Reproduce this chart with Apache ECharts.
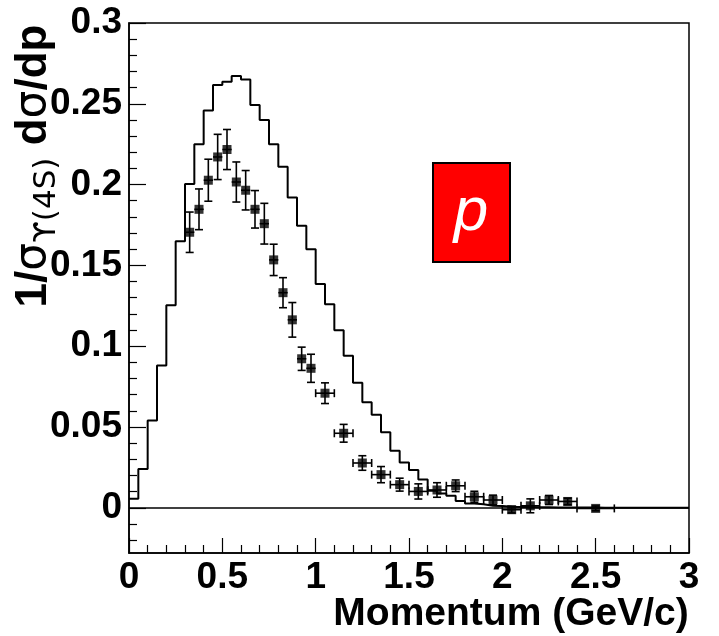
<!DOCTYPE html>
<html>
<head>
<meta charset="utf-8">
<script src="https://cdn.jsdelivr.net/npm/echarts@6/dist/echarts.min.js"></script>
<style>
html, body { margin: 0; padding: 0; background: #fff; }
#chart { width: 719px; height: 636px; }
</style>
</head>
<body>
<div id="chart"></div>
<script>
// Proton momentum spectrum: simulated distribution (histogram, 0.05 GeV/c bins)
// against measured points with error bars.

const binStart = 0;
const binWidth = 0.05;
const histValues = [
  0.0055, 0.024, 0.054, 0.088, 0.1253, 0.165, 0.2004, 0.225, 0.2459, 0.2616,
  0.2637, 0.2672, 0.2651, 0.2492, 0.240, 0.225, 0.211, 0.192, 0.1745, 0.160,
  0.1384, 0.126, 0.1098, 0.094, 0.0773, 0.0653, 0.0576, 0.0467, 0.0353, 0.028,
  0.0233, 0.0175, 0.0105, 0.0088, 0.0075, 0.0042, 0.0026, 0.0022, 0.0013, 0.0011,
  0.0006, 0.0005, 0.0004, 0.0003, 0.0003, 0.0002, 0.0002, 0.0001, 0.0001, 0.0001,
  0, 0, 0, 0, 0, 0, 0, 0, 0, 0
];

const pointMomentum = [
  0.325, 0.375, 0.425, 0.475, 0.525, 0.575, 0.625, 0.675, 0.725, 0.775,
  0.825, 0.875, 0.925, 0.975, 1.05, 1.15, 1.25, 1.35, 1.45, 1.55,
  1.65, 1.75, 1.85, 1.95, 2.05, 2.15, 2.25, 2.35, 2.5
];
const pointValue = [
  0.1705, 0.1847, 0.2027, 0.2171, 0.2217, 0.2016, 0.1965, 0.1847, 0.1758, 0.1534,
  0.1331, 0.1163, 0.0922, 0.0863, 0.0709, 0.0461, 0.0277, 0.0205, 0.0143, 0.0101,
  0.0110, 0.0136, 0.0068, 0.0048, -0.0012, 0.0012, 0.0048, 0.0039, -0.0004
];
const pointMomentumErr = [
  0.025, 0.025, 0.025, 0.025, 0.025, 0.025, 0.025, 0.025, 0.025, 0.025,
  0.025, 0.025, 0.025, 0.025, 0.05, 0.05, 0.05, 0.05, 0.05, 0.05,
  0.05, 0.05, 0.05, 0.05, 0.05, 0.05, 0.05, 0.05, 0.1
];
const pointValueErr = [
  0.0125, 0.0126, 0.013, 0.014, 0.0124, 0.0124, 0.0122, 0.0116, 0.0126, 0.0097,
  0.0093, 0.0107, 0.0072, 0.0087, 0.0064, 0.0055, 0.0045, 0.005, 0.004, 0.0047,
  0.0045, 0.0036, 0.0034, 0.003, 0.002, 0.0043, 0.0028, 0.002, 0.0015
];

const xMin = 0, xMax = 3;
const yMin = -0.028, yMax = 0.3;
const yMajorTicks = [0, 0.05, 0.1, 0.15, 0.2, 0.25, 0.3];

// minor ticks every 0.01 between (and just below) the labelled ones
const yMinorTicks = [];
for (let k = -2; k <= 29; k++) {
  if (k % 5 !== 0) yMinorTicks.push(+(k * 0.01).toFixed(2));
}

// histogram as a step line over the bin edges
const histLine = histValues.map((v, i) => [+(binStart + i * binWidth).toFixed(2), v]);
histLine.push([+(binStart + histValues.length * binWidth).toFixed(2), histValues[histValues.length - 1]]);

const pointData = pointMomentum.map((p, i) => [p, pointValue[i], pointMomentumErr[i], pointValueErr[i]]);

const labelFont = 'Liberation Sans, Arial, Helvetica, sans-serif';

const chart = echarts.init(document.getElementById('chart'), null, { renderer: 'canvas' });

chart.setOption({
  animation: false,
  backgroundColor: '#fff',
  grid: {
    left: 129, right: 30, top: 23, bottom: 83,
    containLabel: false,
    outerBoundsMode: 'none',
    show: true, borderColor: '#000', borderWidth: 1.5, backgroundColor: 'transparent'
  },
  xAxis: {
    type: 'value', min: xMin, max: xMax, interval: 0.5,
    axisLine: { show: true, onZero: false, lineStyle: { color: '#000', width: 1.5 } },
    axisTick: { show: true, inside: true, length: 15, lineStyle: { color: '#000', width: 1.2 } },
    minorTick: { show: true, splitNumber: 5, length: 8, lineStyle: { color: '#000', width: 1.2 } },
    splitLine: { show: false },
    axisLabel: {
      color: '#000', fontFamily: labelFont, fontWeight: 'bold', fontSize: 37, margin: 6,
      showMinLabel: true, showMaxLabel: true, hideOverlap: false
    },
    name: 'Momentum (GeV/c)',
    nameLocation: 'middle',
    nameGap: 42,
    nameMoveOverlap: false,
    nameTextStyle: {
      color: '#000', fontFamily: labelFont, fontWeight: 'bold', fontSize: 39,
      verticalAlign: 'top', padding: [0, 0, 0, 204]
    }
  },
  yAxis: [
    {
      type: 'value', min: yMin, max: yMax, position: 'left',
      axisLine: { show: true, onZero: false, lineStyle: { color: '#000', width: 1.5 } },
      axisTick: { show: true, inside: true, length: 17, customValues: yMajorTicks,
        lineStyle: { color: '#000', width: 1.2 } },
      axisLabel: {
        customValues: yMajorTicks, showMinLabel: true, showMaxLabel: true, hideOverlap: false,
        color: '#000', fontFamily: labelFont, fontWeight: 'bold', fontSize: 37, margin: 7
      },
      splitLine: { show: false },
      name: '{m|1/}{g|σ}{s|ϒ(4S)}{m| d}{g|σ}{m|/dp}',
      nameLocation: 'middle',
      nameRotate: 90,
      nameGap: 67,
      nameMoveOverlap: false,
      nameTextStyle: {
        color: '#000',
        padding: [0, 0, 0, 244],
        rich: {
          m: { fontFamily: labelFont, fontWeight: 'bold', fontSize: 44, lineHeight: 56, verticalAlign: 'middle', color: '#000' },
          g: { fontFamily: 'DejaVu Sans, sans-serif', fontWeight: 'normal', fontSize: 44, lineHeight: 56, verticalAlign: 'middle', color: '#000' },
          s: { fontFamily: 'DejaVu Sans, sans-serif', fontWeight: 'normal', fontSize: 31, lineHeight: 56, verticalAlign: 'bottom', color: '#000' }
        }
      }
    },
    {
      type: 'value', min: yMin, max: yMax, position: 'left', offset: 0,
      axisLine: { show: false, onZero: false },
      axisTick: { show: true, inside: true, length: 8, customValues: yMinorTicks,
        lineStyle: { color: '#000', width: 1.2 } },
      axisLabel: { show: false },
      splitLine: { show: false }
    }
  ],
  series: [
    {
      type: 'line',
      name: 'simulation',
      data: histLine,
      step: 'end',
      showSymbol: false,
      symbol: 'none',
      lineStyle: { color: '#000', width: 2 },
      z: 2,
      markLine: {
        silent: true,
        symbol: 'none',
        label: { show: false },
        lineStyle: { color: '#000', width: 1.5, type: 'solid' },
        data: [{ yAxis: 0 }]
      }
    },
    {
      type: 'custom',
      name: 'errors',
      data: pointData,
      encode: { x: 0, y: 1 },
      z: 3,
      renderItem: function (params, api) {
        const x = api.value(0), y = api.value(1), ex = api.value(2), ey = api.value(3);
        const c = api.coord([x, y]);
        const l = api.coord([x - ex, y]);
        const r = api.coord([x + ex, y]);
        const t = api.coord([x, y + ey]);
        const b = api.coord([x, y - ey]);
        const cap = 4;
        const style = { stroke: '#000', lineWidth: 1.6 };
        const parts = [
          { type: 'line', shape: { x1: l[0], y1: c[1], x2: r[0], y2: c[1] }, style: style },
          { type: 'line', shape: { x1: c[0], y1: t[1], x2: c[0], y2: b[1] }, style: style },
          { type: 'line', shape: { x1: c[0] - cap, y1: t[1], x2: c[0] + cap, y2: t[1] }, style: style },
          { type: 'line', shape: { x1: c[0] - cap, y1: b[1], x2: c[0] + cap, y2: b[1] }, style: style }
        ];
        if (r[0] - c[0] > 6) {
          parts.push({ type: 'line', shape: { x1: l[0], y1: c[1] - cap, x2: l[0], y2: c[1] + cap }, style: style });
          parts.push({ type: 'line', shape: { x1: r[0], y1: c[1] - cap, x2: r[0], y2: c[1] + cap }, style: style });
        }
        return { type: 'group', children: parts };
      }
    },
    {
      type: 'scatter',
      name: 'data',
      data: pointData.map(d => [d[0], d[1]]),
      symbol: 'rect',
      symbolSize: 9,
      itemStyle: { color: '#000' },
      z: 4
    }
  ],
  graphic: [
    {
      type: 'group',
      left: 432, top: 162,
      children: [
        { type: 'rect', shape: { x: 0, y: 0, width: 77, height: 99 },
          style: { fill: '#ff0000', stroke: '#000', lineWidth: 2 } },
        { type: 'text', x: 38, y: 50,
          style: { text: 'p', fill: '#fff', font: 'italic 62px Liberation Sans, Arial, sans-serif',
            textAlign: 'center', textVerticalAlign: 'middle' } }
      ]
    }
  ]
});
</script>
</body>
</html>
